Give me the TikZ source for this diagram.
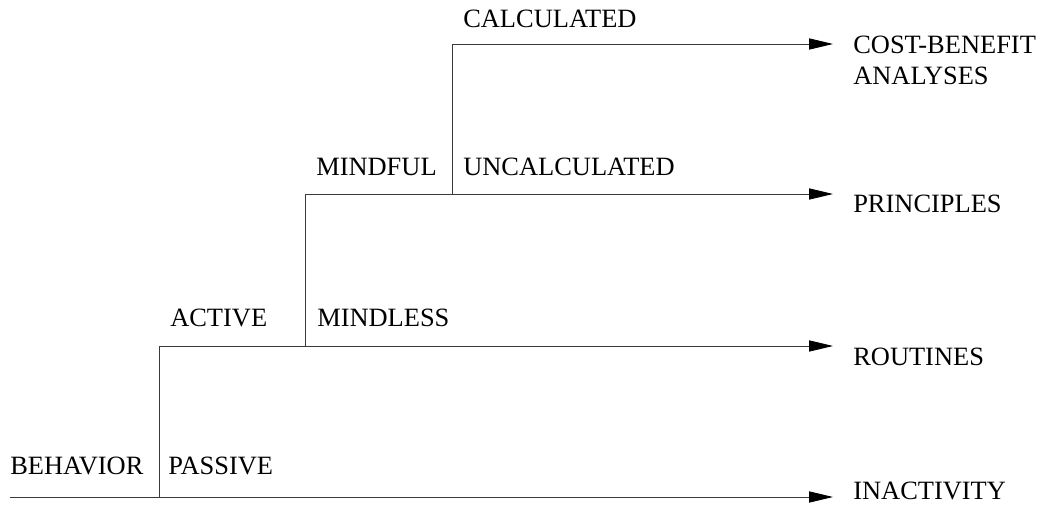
\documentclass[tikz,border=0pt]{standalone}
\usepackage{fontspec}
\setmainfont{Liberation Serif}
\usepackage{xcolor}
\definecolor{lineGray}{HTML}{3A3A3A}
\usepackage{tikz}
\usetikzlibrary{arrows.meta, calc}

\begin{document}
\begin{tikzpicture}[
  every node/.style={font=\fontsize{18.8}{22}\selectfont},
  branch/.style={draw=lineGray, line width=0.6pt},
  arr/.style={branch, -{Triangle[length=0.6cm, width=0.28cm, color=black]}},
  lbl/.style={anchor=west, inner sep=0pt},
  outcome/.style={anchor=west, inner xsep=0.5cm, inner ysep=0pt, align=left}
]
\useasboundingbox (0,0) rectangle (26.1,12.65);

% split points of the tree
\coordinate (root)  at (0.25,0.225);
\coordinate (split1) at (3.975,0.225);
\coordinate (active) at (3.975,4.0);
\coordinate (split2) at (7.625,4.0);
\coordinate (mindful) at (7.625,7.8);
\coordinate (split3) at (11.3,7.8);
\coordinate (calc) at (11.3,11.55);

% outcomes
\node[outcome] (inactivity) at (20.825,0.375)  {INACTIVITY};
\node[outcome] (routines)   at (20.825,3.725)  {ROUTINES};
\node[outcome] (principles) at (20.825,7.55)   {PRINCIPLES};
\node[outcome] (costben)    at (20.825,11.1375) {COST-BENEFIT\\ANALYSES};

% branch labels
\node[lbl] (behavior) at (0.25,1.0)    {BEHAVIOR};
\node[lbl] (passive)  at (4.2,1.0)     {PASSIVE};
\node[lbl] (activel)  at (4.25,4.7)    {ACTIVE};
\node[lbl] (mindless) at (7.925,4.7)   {MINDLESS};
\node[lbl] (mindfull) at (7.9,8.475)   {MINDFUL};
\node[lbl] (uncalc)   at (11.575,8.475) {UNCALCULATED};
\node[lbl] (calcl)    at (11.575,12.175) {CALCULATED};

\draw[arr] (root) -- (root -| inactivity.west);
\draw[branch] (split1) -- (active);
\draw[arr] (active) -- (active -| routines.west);
\draw[branch] (split2) -- (mindful);
\draw[arr] (mindful) -- (mindful -| principles.west);
\draw[branch] (split3) -- (calc);
\draw[arr] (calc) -- (calc -| costben.west);
\end{tikzpicture}
\end{document}
